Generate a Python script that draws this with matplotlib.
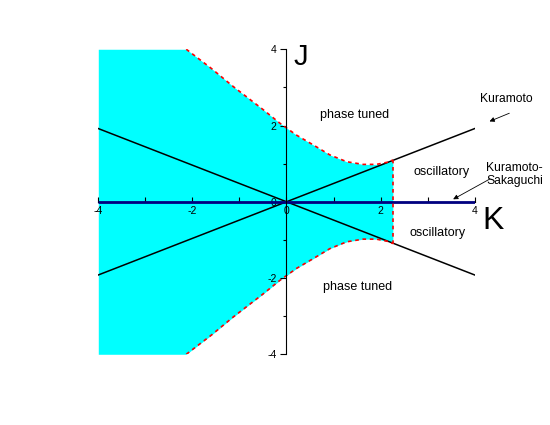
import matplotlib
matplotlib.use("Agg")
import matplotlib.pyplot as plt
from matplotlib.ticker import MultipleLocator, FixedLocator, FixedFormatter

plt.rcParams['font.family'] = ['Liberation Sans', 'DejaVu Sans']
plt.rcParams['axes.unicode_minus'] = False

# --- Daten ---
K_bound = [-4.0, -2.13, -1.6, -1.14, -0.5, -0.14, 0.21, 0.57, 0.92, 1.28, 1.63, 1.91, 2.2, 2.26]
J_upper = [4.0, 4.0, 3.5, 3.03, 2.42, 2.06, 1.75, 1.49, 1.23, 1.05, 0.98, 0.98, 1.05, 1.1]
J_lower = [-4.0, -4.0, -3.5, -3.03, -2.42, -2.06, -1.75, -1.49, -1.23, -1.05, -0.98, -0.98, -1.05, -1.1]
K_edge = 2.26

# Kuramoto-Geraden (Endpunkte)
K_line = [-4.0, 4.0]
J_rise = [-1.92, 1.92]
J_fall = [1.92, -1.92]
# Kuramoto-Sakaguchi (J = 0)
K_ks = [-4.0, 4.0]
J_ks = [0.0, 0.0]

fig = plt.figure(figsize=(5.5, 4.25), dpi=100)
ax = fig.add_axes([0.1787, 0.1664, 0.6844, 0.7177])
ax.set_xlim(-4, 4)
ax.set_ylim(-4, 4)

# Füllbereich
ax.fill_between(K_bound, J_lower, J_upper, color='#00FFFF', linewidth=0, zorder=1)

# Linien
ax.plot(K_line, J_rise, color='black', lw=1.1, zorder=3)
ax.plot(K_line, J_fall, color='black', lw=1.1, zorder=3)
ax.plot(K_ks, J_ks, color='#000080', lw=2.0, zorder=4, solid_capstyle='butt')

# gestrichelte rote Grenze
dash = dict(color='red', lw=1.2, linestyle=(0, (2.2, 2.2)), zorder=5)
ax.plot(K_bound[1:], J_upper[1:], **dash)
ax.plot(K_bound[1:], J_lower[1:], **dash)
ax.plot([K_edge, K_edge], [J_lower[-1], J_upper[-1]], **dash)

# Achsen durch den Ursprung
for s in ['top', 'right']:
    ax.spines[s].set_visible(False)
ax.spines['left'].set_position(('data', 0))
ax.spines['bottom'].set_position(('data', 0))
ax.spines['left'].set_linewidth(0.8)
ax.spines['bottom'].set_linewidth(0.8)
ax.spines['left'].set_zorder(6)

ax.yaxis.set_major_locator(MultipleLocator(2))
ax.yaxis.set_minor_locator(MultipleLocator(1))
ax.tick_params(axis='y', which='major', direction='out', length=4, width=0.8, pad=3, labelsize=7.5)
ax.tick_params(axis='y', which='minor', direction='out', length=2.5, width=0.8)

ax.xaxis.set_major_locator(FixedLocator([-4, -3, -2, -1, 0, 1, 2, 3, 4]))
ax.xaxis.set_major_formatter(FixedFormatter(['-4', '', '-2', '', '0', '', '2', '', '4']))
ax.tick_params(axis='x', which='major', direction='in', length=3.5, width=0.8, pad=3, labelsize=7.5)

# Achsenbeschriftungen
ax.text(0.3, 3.8, 'J', fontsize=21, ha='center', va='center')
ax.text(4.38, -0.5, 'K', fontsize=23, ha='center', va='center', clip_on=False)

# Bereichsbeschriftungen
lab = dict(fontsize=9, ha='center', va='center')
ax.text(1.45, 2.28, 'phase tuned', **lab)
ax.text(3.29, 0.77, 'oscillatory', **lab)
ax.text(3.21, -0.83, 'oscillatory', **lab)
ax.text(1.52, -2.24, 'phase tuned', **lab)

arrow = dict(arrowstyle='-|>', color='black', lw=0.6, mutation_scale=7)
ax.annotate('', xy=(4.26, 2.08), xytext=(4.79, 2.35), arrowprops=arrow, annotation_clip=False)
ax.text(4.68, 2.69, 'Kuramoto', fontsize=8.7, ha='center', va='center', clip_on=False)
ax.annotate('', xy=(3.49, 0.03), xytext=(4.37, 0.63), arrowprops=arrow, annotation_clip=False)
ax.text(4.24, 0.71, 'Kuramoto-\nSakaguchi', fontsize=8.7, ha='left', va='center',
        linespacing=1.05, clip_on=False)

fig.savefig('out.png', dpi=100)
